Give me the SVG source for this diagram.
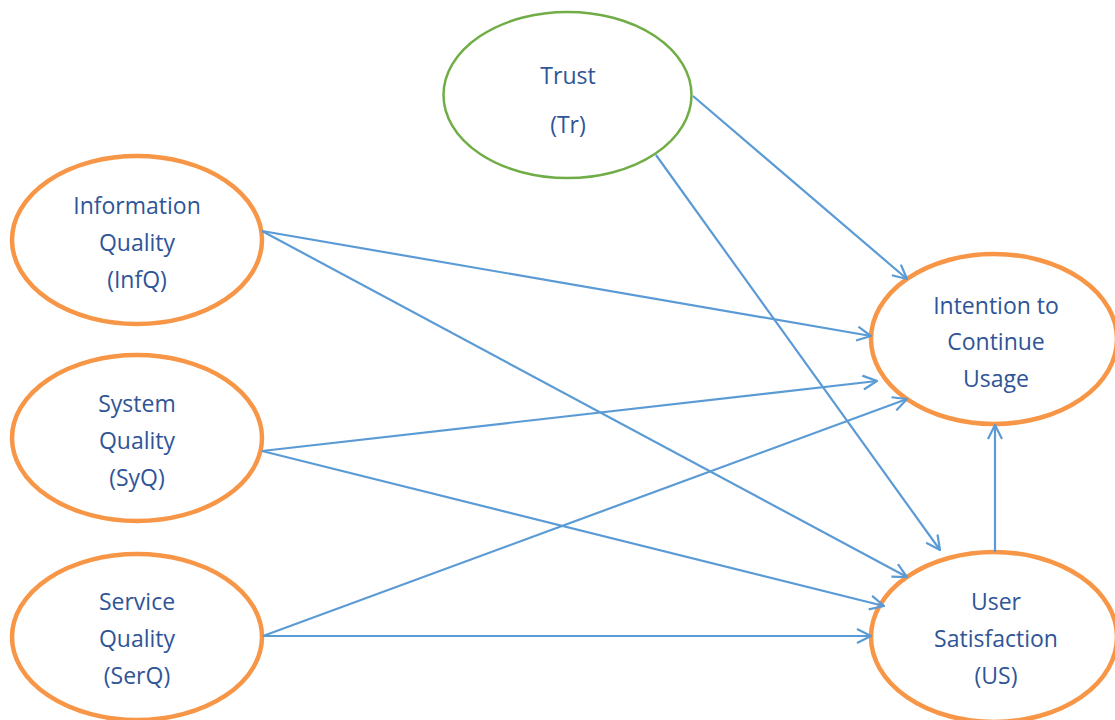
<svg xmlns="http://www.w3.org/2000/svg" width="1115" height="720" viewBox="0 0 1115 720">
<style>
.orange{fill:#fff;stroke:#f79646;stroke-width:4.5}
.green{fill:#fff;stroke:#70ad47;stroke-width:2.5}
text{font-family:"Open Sans","Liberation Sans",sans-serif;font-size:23px;fill:#2f5597;text-anchor:middle;dominant-baseline:central}
.conn line{stroke:#5b9bd5;stroke-width:2.2;marker-end:url(#arr)}
</style>
<defs>
<marker id="arr" markerUnits="userSpaceOnUse" viewBox="0 0 16 16" refX="15" refY="8" markerWidth="16" markerHeight="16" orient="auto">
<path d="M1,1 L15,8 L1,15" fill="none" stroke="#5b9bd5" stroke-width="2.2"/>
</marker>
</defs>
<rect width="1115" height="720" fill="#fff"/>
<g id="trust"><ellipse class="green" cx="567.5" cy="95" rx="124" ry="83"/><text x="568" y="75">Trust</text><text x="568" y="124">(Tr)</text></g>
<g id="infq"><ellipse class="orange" cx="137" cy="240" rx="125" ry="84"/><text x="137" y="205">Information</text><text x="137" y="242">Quality</text><text x="137" y="279">(InfQ)</text></g>
<g id="syq"><ellipse class="orange" cx="137" cy="438" rx="125" ry="83"/><text x="137" y="403">System</text><text x="137" y="440">Quality</text><text x="137" y="477">(SyQ)</text></g>
<g id="serq"><ellipse class="orange" cx="137" cy="637" rx="125" ry="83"/><text x="137" y="601">Service</text><text x="137" y="638">Quality</text><text x="137" y="675">(SerQ)</text></g>
<g id="icu"><ellipse class="orange" cx="994" cy="339" rx="123" ry="85"/><text x="996" y="305">Intention to</text><text x="996" y="341">Continue</text><text x="996" y="378">Usage</text></g>
<g id="us"><ellipse class="orange" cx="994" cy="637" rx="123" ry="85"/><text x="996" y="601">User</text><text x="996" y="638">Satisfaction</text><text x="996" y="675">(US)</text></g>
<g id="connectors" class="conn">
<line x1="693" y1="96" x2="907" y2="279"/>
<line x1="656" y1="155" x2="940" y2="550"/>
<line x1="262" y1="231" x2="871" y2="336"/>
<line x1="262" y1="231" x2="907" y2="577"/>
<line x1="262" y1="451" x2="877" y2="381"/>
<line x1="262" y1="451" x2="884" y2="606"/>
<line x1="263" y1="636" x2="907" y2="399"/>
<line x1="263" y1="636" x2="871" y2="636"/>
<line x1="995" y1="552" x2="995" y2="425"/>
</g>
</svg>
